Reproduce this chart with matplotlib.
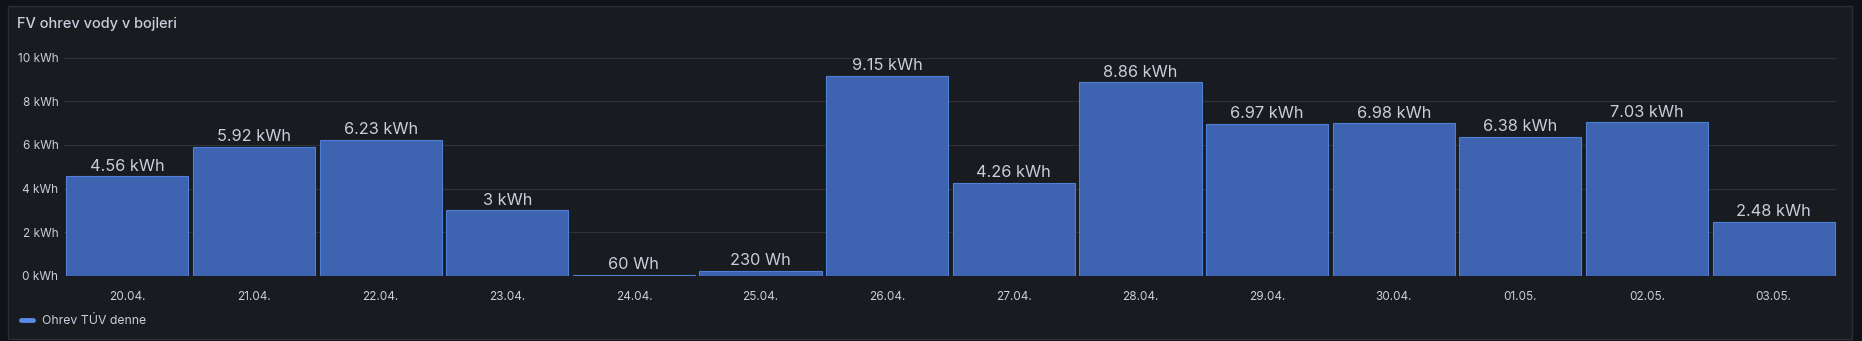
import matplotlib
matplotlib.use("Agg")
import matplotlib.pyplot as plt
from matplotlib.lines import Line2D

# --- data ---
dates = ["20.04.", "21.04.", "22.04.", "23.04.", "24.04.", "25.04.", "26.04.",
         "27.04.", "28.04.", "29.04.", "30.04.", "01.05.", "02.05.", "03.05."]
energy_kwh = [4.56, 5.92, 6.23, 3.0, 0.06, 0.23, 9.15, 4.26, 8.86, 6.97, 6.98, 6.38, 7.03, 2.48]
y_ticks = [0, 2, 4, 6, 8, 10]
series_name = "Ohrev TÚV denne"
title = "FV ohrev vody v bojleri"


def fmt_energy(v):
    if v < 1:
        return f"{v * 1000:.0f} Wh"
    return f"{v:g} kWh"


plt.rcParams['font.family'] = ['Inter', 'DejaVu Sans']

W, H = 1862, 341
fig = plt.figure(figsize=(W / 100, H / 100), dpi=100)
fig.patch.set_facecolor('#111217')

# panel background (behind the axes)
panel = plt.Rectangle((8 / W, 2 / H), (1852 - 8) / W, (335 - 2) / H, transform=fig.transFigure,
                      facecolor='#181b1f', edgecolor='#2a2d33', linewidth=1, zorder=-5)
fig.patches.append(panel)

fig.text(17 / W, 1 - 24 / H, title, color='#ccccdc', fontsize=10.5, fontweight='medium',
         ha='left', va='center')

left, right, top, bottom = 64, 1837, 57.5, 276
ax = fig.add_axes([left / W, 1 - bottom / H, (right - left) / W, (bottom - top) / H])
ax.set_facecolor('none')
ax.set_zorder(2)

x = list(range(len(dates)))
ax.bar(x, energy_kwh, width=0.965, color='#3d63b1', edgecolor='#4f7fd6', linewidth=0.8, zorder=2)

for xi, v in zip(x, energy_kwh):
    ax.annotate(fmt_energy(v), (xi, v), xytext=(0, 2), textcoords='offset points',
                ha='center', va='bottom', color='#ccccdc', fontsize=11.8, annotation_clip=False)

ax.set_xlim(-0.5, len(dates) - 0.5)
ax.set_ylim(0, 10)
ax.set_yticks(y_ticks)
ax.set_yticklabels([f"{t} kWh" for t in y_ticks])
ax.set_xticks(x)
ax.set_xticklabels(dates)
ax.tick_params(axis='both', length=0, colors='#ccccdc', labelsize=8.5)
ax.tick_params(axis='y', pad=4)
ax.tick_params(axis='x', pad=11)
ax.grid(axis='y', color='#2f3136', linewidth=0.8, zorder=0)
for s in ax.spines.values():
    s.set_visible(False)

handle = Line2D([0], [0], color='#5a8ae6', linewidth=3.5, solid_capstyle='round')
fig.legend([handle], [series_name], loc='center left', bbox_to_anchor=(21 / W, 1 - 321.5 / H),
           frameon=False, labelcolor='#ccccdc', fontsize=8.8, handlelength=1.0, handletextpad=0.7,
           borderaxespad=0, borderpad=0)

fig.savefig('out.png', dpi=100, facecolor=fig.get_facecolor())
